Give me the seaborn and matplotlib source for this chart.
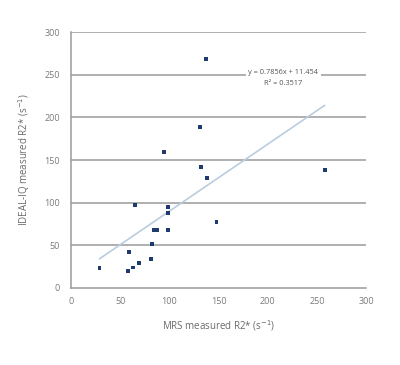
import matplotlib
matplotlib.use("Agg")
import matplotlib.pyplot as plt
import numpy as np
import pandas as pd
import seaborn as sns

# values
mrs_r2 = [29, 58, 63, 69, 59, 81, 82, 84, 87, 99, 99, 99, 65,
          131, 95, 132, 138, 148, 137, 258]
ideal_r2 = [23, 20, 24, 29, 42, 34, 52, 68, 68, 68, 88, 95, 97,
            189, 159, 142, 129, 77, 268, 138]
slope = 0.7856
intercept = 11.454
r_squared = 0.3517
x_ticks = [0, 50, 100, 150, 200, 250, 300]
y_ticks = [0, 50, 100, 150, 200, 250, 300]

df = pd.DataFrame({"mrs": mrs_r2, "ideal": ideal_r2})
fit_x = np.array([min(mrs_r2), max(mrs_r2)])
fit = pd.DataFrame({"mrs": fit_x, "ideal": slope * fit_x + intercept})

sns.set_style("white")
plt.rcParams["font.family"] = ["Open Sans", "DejaVu Sans"]

fig = plt.figure(figsize=(4.0, 3.65), dpi=100)
ax = fig.add_axes([0.1775, 0.211, 0.7375, 0.701])

grid_c = "#9a9a9a"
for v in y_ticks[1:]:
    ax.axhline(v, color=grid_c, lw=1.1, zorder=0)

sns.lineplot(data=fit, x="mrs", y="ideal", ax=ax, color="#b9cde0", lw=1.2, zorder=1)
sns.scatterplot(data=df, x="mrs", y="ideal", ax=ax, marker="s", s=8,
                color="#1f3a6e", edgecolor="none", zorder=3)

ax.set_xlim(0, 300)
ax.set_ylim(0, 300)
ax.set_xticks(x_ticks)
ax.set_yticks(y_ticks)
ax.tick_params(axis="both", labelsize=6.5, colors="#7a7a7a", length=3, width=0.8, pad=5)
ax.tick_params(axis="x", direction="inout")
ax.tick_params(axis="y", direction="out", length=3)
for side in ["top", "right"]:
    ax.spines[side].set_visible(False)
for side in ["left", "bottom"]:
    ax.spines[side].set_color(grid_c)
    ax.spines[side].set_linewidth(1.1)

ax.set_xlabel("MRS measured R2* (s$^{-1}$)", fontsize=7, color="#6a6a6a", labelpad=9)
ax.set_ylabel("IDEAL-IQ measured R2* (s$^{-1}$)", fontsize=7, color="#6a6a6a", labelpad=9)

ax.text(216, 246, f"y = {slope}x + {intercept}\nR² = {r_squared}", fontsize=5.3,
        color="#555555", ha="center", va="center", linespacing=1.7, zorder=4,
        bbox=dict(facecolor="white", edgecolor="none", pad=2))

fig.savefig("out.png", dpi=100)
